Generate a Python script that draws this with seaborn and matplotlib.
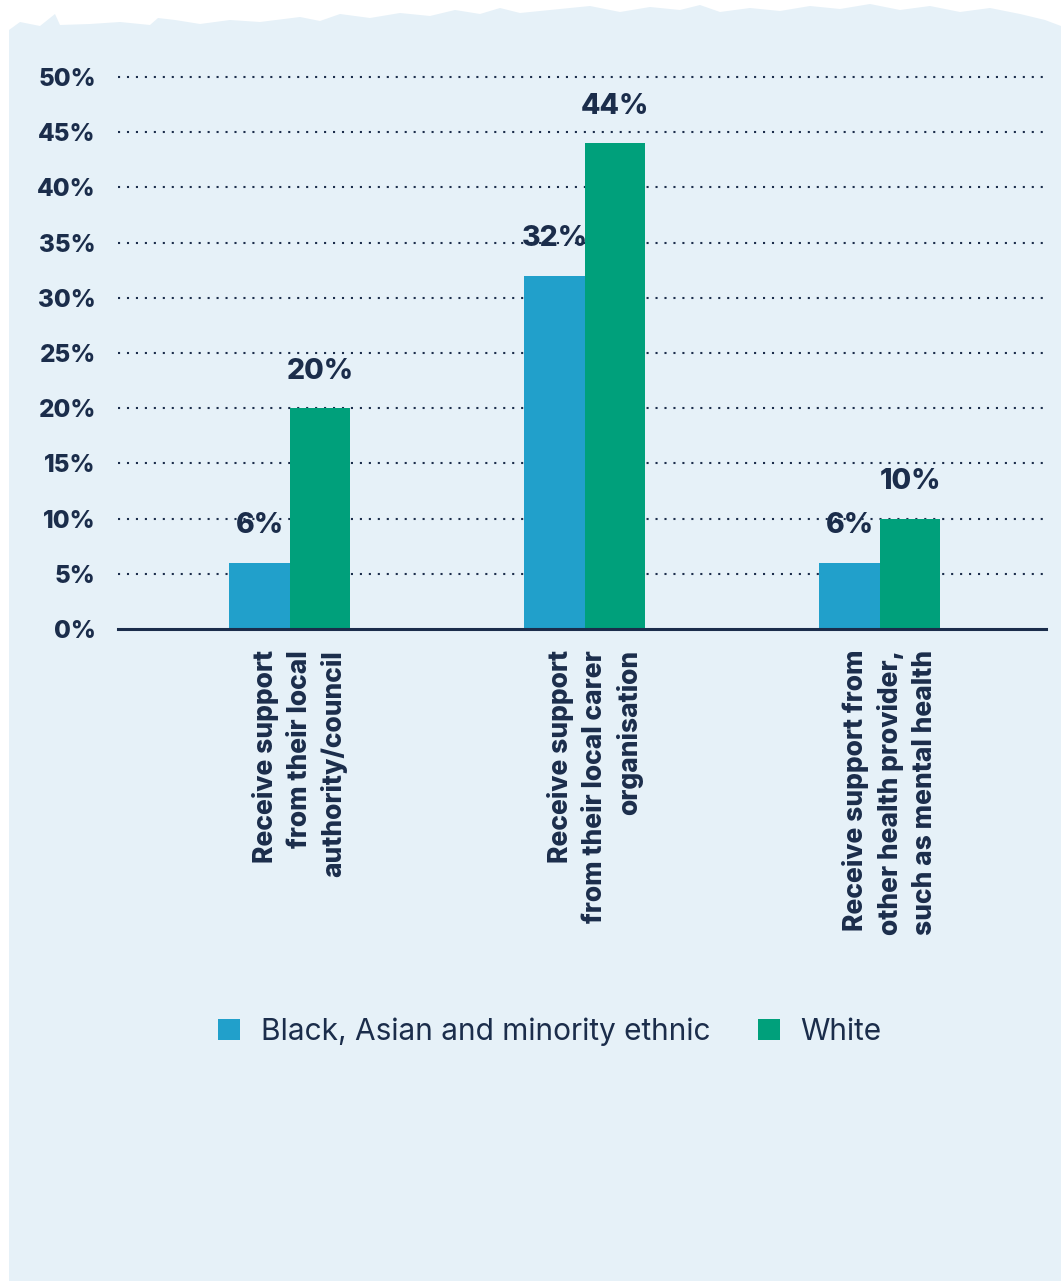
import numpy as np
import pandas as pd
import matplotlib
matplotlib.use("Agg")
import matplotlib.pyplot as plt
import matplotlib.transforms as mtransforms
from matplotlib.patches import Polygon, Rectangle, Patch
import seaborn as sns

# ---- data -------------------------------------------------------------
categories = [
    "Receive support\nfrom their local\nauthority/council",
    "Receive support\nfrom their local carer\norganisation",
    "Receive support from\nother health provider,\nsuch as mental health",
]
groups = ["Black, Asian and minority ethnic", "White"]
bame_values = [6, 32, 6]
white_values = [20, 44, 10]
y_ticks = [0, 5, 10, 15, 20, 25, 30, 35, 40, 45, 50]

NAVY = "#1B2D4B"
BLUE = "#21A0CB"
GREEN = "#00A07B"
PANEL = "#E6F1F8"

df = pd.DataFrame({
    "category": categories * 2,
    "group": [groups[0]] * 3 + [groups[1]] * 3,
    "value": bame_values + white_values,
})

sns.set_theme(style="white")
plt.rcParams["font.family"] = ["Inter", "DejaVu Sans"]

W, H = 1061, 1281
fig = plt.figure(figsize=(W / 100, H / 100), dpi=100)
fig.patch.set_facecolor("white")

# ---- background panel with a torn top edge ----------------------------
bg = fig.add_axes([0, 0, 1, 1])
bg.set_xlim(0, W)
bg.set_ylim(H, 0)
bg.axis("off")
bg.add_patch(Rectangle((9, 43), W - 9, H - 43, facecolor=PANEL, edgecolor="none"))
edge_x = [9, 20, 40, 55, 60, 90, 120, 150, 158, 175, 200, 230, 260, 300, 320, 340,
          370, 400, 430, 455, 480, 500, 520, 560, 590, 620, 650, 680, 700, 720,
          750, 780, 810, 840, 870, 900, 930, 960, 990, 1020, 1045, 1061]
edge_y = [30, 22, 26, 14, 25, 24, 22, 25, 18, 20, 24, 20, 22, 17, 21, 14,
          18, 13, 16, 10, 14, 8, 13, 9, 6, 12, 7, 10, 5, 12,
          8, 11, 6, 9, 4, 10, 6, 12, 8, 14, 20, 26]
poly = [(x, y) for x, y in zip(edge_x, edge_y)] + [(W, 44), (9, 44)]
bg.add_patch(Polygon(poly, closed=True, facecolor=PANEL, edgecolor="none"))

# ---- bar chart --------------------------------------------------------
ax = fig.add_axes([0.1112, 0.509, 0.8746, 0.4395])
ax.set_facecolor("none")
sns.barplot(data=df, x="category", y="value", hue="group",
            palette=[BLUE, GREEN], width=0.41, gap=0, saturation=1,
            linewidth=0, legend=False, ax=ax, zorder=3)

ax.set_xlim(-0.583, 2.563)
ax.set_ylim(0, 51)
ax.set_yticks(y_ticks)
ax.set_yticklabels([f"{t}%" for t in y_ticks], fontsize=17.5, fontweight="heavy", color=NAVY)
for t in y_ticks[1:]:
    ax.axhline(t, color=NAVY, lw=1.5, ls=(0, (1, 3.3)), zorder=1)

# rotated category labels under each group, nudged slightly right
ax.set_xticks(range(len(categories)))
ax.set_xticklabels([])
offset = mtransforms.ScaledTranslation(10 / 100, -21 / 100, fig.dpi_scale_trans)
for i, cat in enumerate(categories):
    ax.text(i, 0, cat, transform=ax.get_xaxis_transform() + offset,
            rotation=90, fontsize=19, fontweight="heavy", color=NAVY,
            va="top", ha="center", multialignment="right", linespacing=1.38)

ax.tick_params(axis="both", length=0)
ax.tick_params(axis="y", pad=16)
ax.set_xlabel("")
ax.set_ylabel("")
for s in ["top", "right", "left"]:
    ax.spines[s].set_visible(False)
ax.spines["bottom"].set_color(NAVY)
ax.spines["bottom"].set_linewidth(2.2)
ax.spines["bottom"].set_zorder(4)

for cont in ax.containers:
    ax.bar_label(cont, labels=[f"{v:.0f}%" for v in cont.datavalues],
                 padding=17, fontsize=20.5, fontweight="heavy", color=NAVY, zorder=5)

handles = [Patch(facecolor=BLUE, edgecolor="none"), Patch(facecolor=GREEN, edgecolor="none")]
fig.legend(handles, groups, loc="center", bbox_to_anchor=(550 / W, 1 - 1032 / H),
           ncol=2, frameon=False, prop={"size": 21.5, "family": ["Inter", "DejaVu Sans"]},
           handlelength=0.72, handleheight=0.72,
           handletextpad=0.7, columnspacing=1.6, labelcolor=NAVY)

fig.savefig("out.png", dpi=100, facecolor=fig.get_facecolor())
